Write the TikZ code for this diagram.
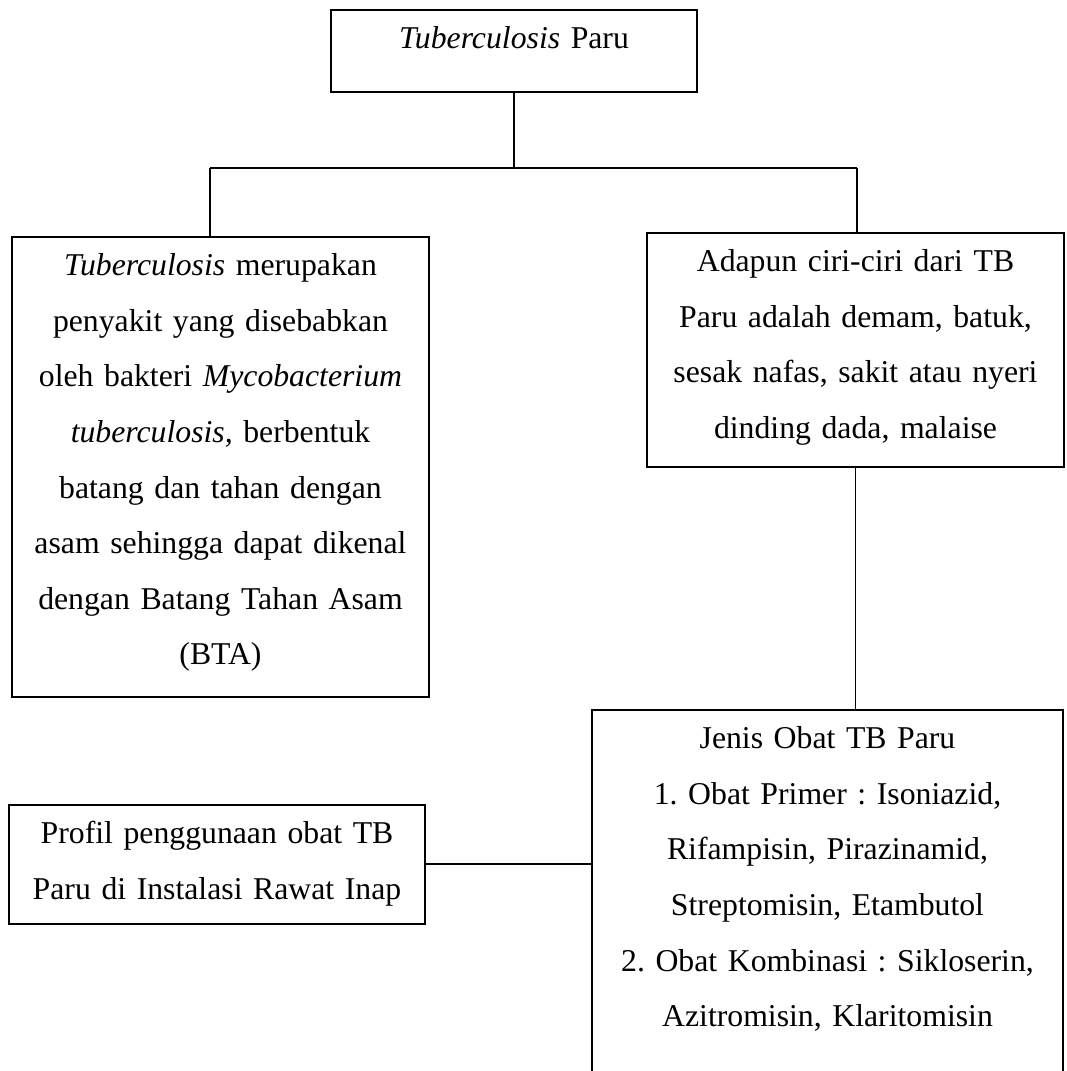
\documentclass[tikz,border=0pt]{standalone}
\usepackage{fontspec}
\setmainfont{Liberation Serif}
\frenchspacing

\begin{document}
\begin{tikzpicture}[x=0.378pt,y=-0.378pt,line width=0.7pt]
\tikzstyle{every node}=[draw, anchor=north, align=center, inner xsep=0pt, inner ysep=0pt, text height=14.7pt, font=\fontsize{12}{21}\selectfont\frenchspacing]
\useasboundingbox (0,0) rectangle (1066,1071);
\draw (514,9) node (tb) [text width=138.3pt, text depth=16.3pt] {\textit{Tuberculosis} Paru};
\draw (220.5,236) node (def) [text width=157.6pt, text depth=159.1pt] {\textit{Tuberculosis} merupakan\\ penyakit yang disebabkan\\ oleh bakteri \textit{Mycobacterium}\\ \textit{tuberculosis,} berbentuk\\ batang dan tahan dengan\\ asam sehingga dapat dikenal\\ dengan Batang Tahan Asam\\ (BTA)};
\draw (855.5,232) node (ciri) [text width=157.6pt, text depth=73.7pt] {Adapun ciri-ciri dari TB\\ Paru adalah demam, batuk,\\ sesak nafas, sakit atau nyeri\\ dinding dada, malaise};
\draw (827.5,709) node (obat) [text width=178pt, text depth=135pt] {Jenis Obat TB Paru\\ 1. Obat Primer : Isoniazid,\\ Rifampisin, Pirazinamid,\\ Streptomisin, Etambutol\\ 2. Obat Kombinasi : Sikloserin,\\ Azitromisin, Klaritomisin};
\draw (217,804) node (profil) [text width=157.2pt, text depth=30.2pt] {Profil penggunaan obat TB\\ Paru di Instalasi Rawat Inap};
\path (210,168) coordinate (jl);
\path (857,168) coordinate (jr);
\draw (tb) -- (tb |- jl);
\draw (jl) -- (jr);
\draw (jl) -- (jl |- def.north);
\draw (jr) -- (jr |- ciri.north);
\draw (ciri.south) -- (ciri.south |- obat.north);
\draw (profil.east) -- (profil.east -| obat.west);
\end{tikzpicture}
\end{document}
